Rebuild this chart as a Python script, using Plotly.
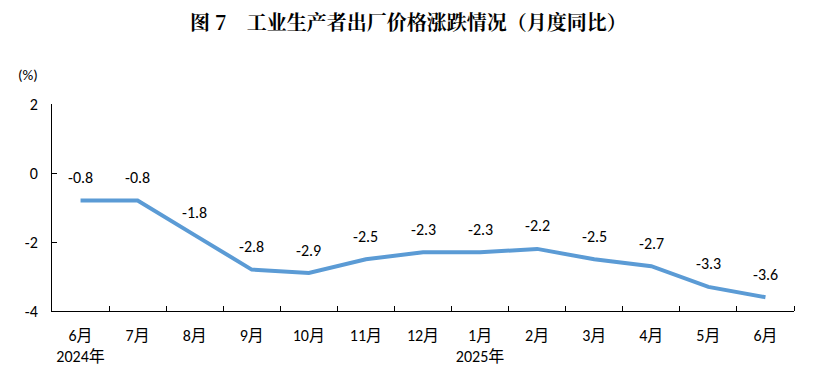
import plotly.graph_objects as go

months = ["6月<br>2024年", "7月", "8月", "9月", "10月", "11月", "12月",
          "1月<br>2025年", "2月", "3月", "4月", "5月", "6月"]
values = [-0.8, -0.8, -1.8, -2.8, -2.9, -2.5, -2.3, -2.3, -2.2, -2.5, -2.7, -3.3, -3.6]
y_ticks = [2, 0, -2, -4]

FONT = "Calibri, Carlito, 'Open Sans', 'Noto Sans CJK SC', sans-serif"
x_idx = list(range(len(months)))

fig = go.Figure()
fig.add_trace(go.Scatter(
    x=x_idx, y=values, mode="lines",
    line=dict(color="#5B9BD5", width=4),
    hoverinfo="skip", showlegend=False,
))

for i, v in zip(x_idx, values):
    fig.add_annotation(x=i, y=v, text=f"{v:.1f}", showarrow=False,
                       yshift=23, font=dict(size=16, color="#000", family=FONT))

fig.add_annotation(x=0, y=1, xref="paper", yref="paper",
                   xanchor="center", yanchor="middle", xshift=-24, yshift=29,
                   text="(%)", showarrow=False,
                   font=dict(size=15, color="#000", family=FONT))

fig.update_layout(
    width=817, height=376,
    margin=dict(l=52, r=23, t=104, b=65),
    paper_bgcolor="white", plot_bgcolor="white",
    title=dict(text="<b>图 7　工业生产者出厂价格涨跌情况（月度同比）</b>",
               x=0.5, xanchor="center", y=0.94, yanchor="middle",
               font=dict(size=20, color="#000", family="'Noto Serif CJK SC', 'Noto Sans CJK SC', serif")),
    xaxis=dict(
        range=[-0.5, len(months) - 0.5],
        tickmode="array", tickvals=x_idx, ticktext=months,
        showline=True, linecolor="#000", linewidth=1,
        showgrid=False, zeroline=False, ticks="",
        tickfont=dict(size=16, color="#000", family=FONT),
        ticklabelstandoff=10,
        automargin=False,
        fixedrange=True,
    ),
    yaxis=dict(
        range=[-4, 2], tickmode="array", tickvals=y_ticks,
        ticktext=[str(t) for t in y_ticks],
        showline=True, linecolor="#000", linewidth=1,
        showgrid=False, zeroline=False,
        ticks="inside", ticklen=5, tickcolor="#000",
        tickfont=dict(size=16, color="#000", family=FONT),
        ticklabelstandoff=10,
        automargin=False,
        fixedrange=True,
    ),
)

# boundary ticks between categories on the x axis
fig.update_xaxes(minor=dict(tickvals=[i + 0.5 for i in x_idx], ticks="inside",
                            ticklen=5, tickcolor="#000", showgrid=False))

fig.write_html("out.html", config={"displayModeBar": False},
               post_script="document.body.style.margin='0';document.body.style.overflow='hidden';")
